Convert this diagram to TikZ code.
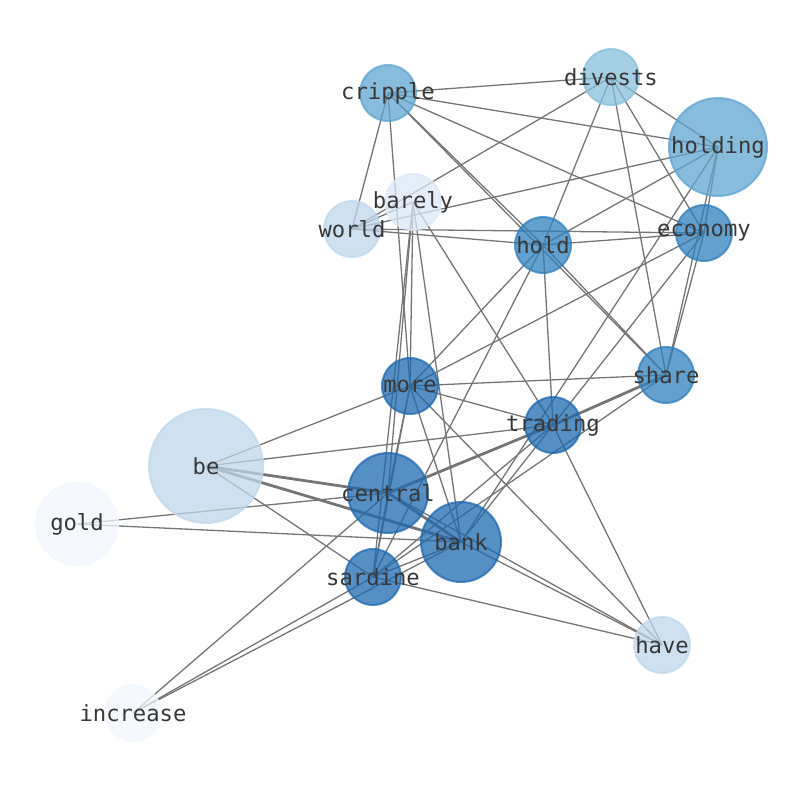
\documentclass[tikz,border=0pt]{standalone}
\usepackage{fontspec}
\setmonofont{DejaVu Sans Mono}
\usepackage{tikz}
\usetikzlibrary{backgrounds}

\definecolor{tnA}{RGB}{30,105,175}
\definecolor{tnB}{RGB}{48,128,188}
\definecolor{tnC}{RGB}{95,165,208}
\definecolor{tnD}{RGB}{135,191,220}
\definecolor{tnE}{RGB}{191,215,235}
\definecolor{tnF}{RGB}{219,232,247}
\definecolor{tnG}{RGB}{241,247,253}
\definecolor{lnkgray}{RGB}{118,118,118}

\begin{document}
\begin{tikzpicture}[x=1pt, y=-1pt,
  wordtext/.style={inner sep=0pt, text opacity=1, text=black!78,
                   font=\ttfamily\fontsize{22.2}{26}\selectfont},
  word/.style={circle, inner sep=0pt, minimum size=56pt, line width=2pt,
               fill opacity=0.75, draw opacity=0.75,
               label={[wordtext]center:#1}},
  tone/.style={fill=#1, draw=#1},
  lnk/.style={draw, lnkgray, line width=1.3pt},
  heavy/.style={draw, lnkgray, line width=2.8pt}]

\useasboundingbox (0,0) rectangle (794,790);

\node [word=cripple,  tone=tnC                     ] at (388, 93) (cripple)  {};
\node [word=divests,  tone=tnD                     ] at (611, 77) (divests)  {};
\node [word=holding,  tone=tnC, minimum size=98pt  ] at (718,147) (holding)  {};
\node [word=barely,   tone=tnF                     ] at (413,202) (barely)   {};
\node [word=world,    tone=tnE                     ] at (352,229) (world)    {};
\node [word=hold,     tone=tnB                     ] at (543,245) (hold)     {};
\node [word=economy,  tone=tnB                     ] at (704,233) (economy)  {};
\node [word=share,    tone=tnB                     ] at (666,375) (share)    {};
\node [word=more,     tone=tnA                     ] at (410,386) (more)     {};
\node [word=trading,  tone=tnA                     ] at (553,425) (trading)  {};
\node [word=be,       tone=tnE, minimum size=114pt ] at (206,466) (be)       {};
\node [word=central,  tone=tnA, minimum size=80pt  ] at (388,493) (central)  {};
\node [word=gold,     tone=tnG, minimum size=82pt  ] at ( 77,524) (gold)     {};
\node [word=bank,     tone=tnA, minimum size=80pt  ] at (461,542) (bank)     {};
\node [word=sardine,  tone=tnA                     ] at (373,577) (sardine)  {};
\node [word=have,     tone=tnE                     ] at (662,645) (have)     {};
\node [word=increase, tone=tnG                     ] at (133,713) (increase) {};

\begin{pgfonlayer}{background}
% cripple, divests, holding, economy
\path [lnk] (cripple.center) edge (divests.center);
\path [lnk] (cripple.center) edge (holding.center);
\path [lnk] (cripple.center) edge (economy.center);
\path [lnk] (cripple.center) edge (world.center);
\path [lnk] (cripple.center) edge (more.center);
\path [lnk] (cripple.center) edge (hold.center);
\path [lnk] (cripple.center) edge (share.center);
\path [lnk] (divests.center) edge (holding.center);
\path [lnk] (divests.center) edge (world.center);
\path [lnk] (divests.center) edge (hold.center);
\path [lnk] (divests.center) edge (share.center);
\path [lnk] (divests.center) edge (economy.center);
\path [lnk] (holding.center) edge (world.center);
\path [lnk] (holding.center) edge (hold.center);
\path [lnk] (holding.center) edge (share.center);
\path [lnk] (holding.center) edge (economy.center);
\path [lnk] (holding.center) edge (bank.center);
\path [lnk] (economy.center) edge (world.center);
\path [lnk] (economy.center) edge (hold.center);
\path [lnk] (economy.center) edge (share.center);
\path [lnk] (economy.center) edge (trading.center);
\path [lnk] (economy.center) edge (more.center);
% world, hold, barely
\path [lnk] (world.center)   edge (hold.center);
\path [lnk] (world.center)   edge (barely.center);
\path [lnk] (hold.center)    edge (trading.center);
\path [lnk] (hold.center)    edge (share.center);
\path [lnk] (hold.center)    edge (more.center);
\path [lnk] (hold.center)    edge (sardine.center);
\path [lnk] (barely.center)  edge (more.center);
\path [lnk] (barely.center)  edge (central.center);
\path [lnk] (barely.center)  edge (sardine.center);
\path [lnk] (barely.center)  edge (bank.center);
\path [lnk] (barely.center)  edge (trading.center);
% more, trading
\path [lnk] (more.center)    edge (share.center);
\path [lnk] (more.center)    edge (trading.center);
\path [lnk] (more.center)    edge (be.center);
\path [lnk] (more.center)    edge (have.center);
\path [lnk] (more.center)    edge (bank.center);
\path [lnk] (more.center)    edge (central.center);
\path [lnk] (more.center)    edge (sardine.center);
\path [heavy] (trading.center) edge (share.center);
\path [heavy] (trading.center) edge (central.center);
\path [lnk] (trading.center) edge (be.center);
\path [lnk] (trading.center) edge (have.center);
\path [lnk] (trading.center) edge (bank.center);
\path [lnk] (trading.center) edge (sardine.center);
\path [lnk] (share.center)   edge (sardine.center);
% be, central, bank, sardine
\path [heavy] (be.center)    edge (central.center);
\path [heavy] (be.center)    edge (bank.center);
\path [lnk] (be.center)      edge (sardine.center);
\path [heavy] (central.center) edge (bank.center);
\path [lnk] (central.center) edge (gold.center);
\path [lnk] (central.center) edge (increase.center);
\path [lnk] (central.center) edge (have.center);
\path [lnk] (central.center) edge (sardine.center);
\path [lnk] (bank.center)    edge (gold.center);
\path [lnk] (bank.center)    edge (increase.center);
\path [lnk] (bank.center)    edge (have.center);
\path [lnk] (bank.center)    edge (sardine.center);
\path [lnk] (sardine.center) edge (increase.center);
\path [lnk] (sardine.center) edge (have.center);
\end{pgfonlayer}

\end{tikzpicture}
\end{document}
